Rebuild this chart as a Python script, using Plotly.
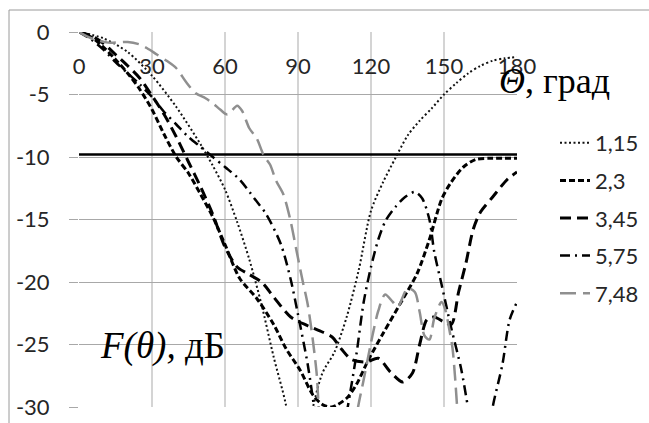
import plotly.graph_objects as go

# ---------------- data ----------------
theta_115 = [0, 10, 20, 30, 40, 50, 55, 60, 65, 70, 75, 80, 85, 90, 95, 100, 105, 110, 115, 120,
             125, 130, 135, 140, 145, 150, 155, 160, 165, 170, 175, 180]
f_115 = [0, -0.5, -1.6, -3.5, -6.0, -9.0, -10.7, -12.6, -15.2, -18.2, -21.8, -26.0, -29.8, -36.0, -31.0,
         -27.3, -25.6, -22.8, -19.0, -14.3, -12.0, -10.1, -8.3, -7.1, -6.1, -5.0, -4.1, -3.3, -2.7, -2.3,
         -2.1, -2.0]

theta_23 = [0, 5, 10, 15, 20, 25, 30, 35, 40, 45, 50, 55, 60, 66, 73, 80, 85, 91, 96, 100, 104, 110,
            114, 119, 125, 133, 139, 144, 149, 153, 158, 163, 170, 180]
f_23 = [0, -0.4, -1.2, -2.2, -3.3, -4.6, -6.2, -8.2, -10.0, -11.3, -13.0, -14.8, -17.0, -19.7, -21.3,
        -23.4, -25.3, -27.1, -29.0, -29.8, -30.0, -29.3, -28.2, -26.2, -24.1, -21.4, -19.3, -16.6, -13.4,
        -12.0, -10.8, -10.2, -10.1, -10.1]

theta_345 = [0, 5, 10, 15, 20, 25, 30, 35, 40, 45, 50, 55, 60, 65, 70, 75, 80, 87, 94, 100, 104, 108,
             112, 118, 123, 128, 133, 137, 140, 143, 146, 150, 153, 156, 159, 162, 165, 170, 176, 180]
f_345 = [0, -0.3, -0.9, -1.8, -2.7, -3.7, -5.1, -6.6, -8.4, -10.4, -12.4, -14.6, -17.2, -18.8, -19.4,
         -20.0, -21.2, -22.8, -23.5, -24.0, -24.4, -25.4, -26.2, -26.4, -26.1, -27.2, -28.0, -27.3, -25.0,
         -23.0, -22.8, -23.2, -23.4, -20.8, -18.5, -15.8, -14.4, -13.2, -11.8, -11.2]

theta_575 = [0, 5, 10, 15, 20, 25, 30, 35, 40, 45, 50, 55, 60, 66, 72, 77, 83, 87, 90, 94, 97, 103,
             110, 114, 117, 120, 123, 126, 130, 134, 138, 141, 144, 146, 149, 153, 157, 160, 165, 170,
             174, 177, 180]
f_575 = [0, -0.6, -1.4, -2.4, -3.3, -4.2, -5.2, -6.4, -7.4, -8.4, -9.2, -10.0, -10.8, -11.8, -13.3,
         -14.6, -17.0, -19.8, -22.6, -26.6, -30.5, -38.0, -30.5, -25.8, -21.6, -18.8, -16.6, -15.1, -14.0,
         -13.2, -12.8, -13.3, -15.0, -17.6, -20.2, -23.7, -26.9, -30.2, -36.0, -30.0, -26.6, -23.0, -21.6]

theta_748 = [0, 5, 12, 20, 25, 28, 32, 36, 40, 44, 48, 52, 55, 58, 61, 65, 67, 70, 73, 76, 78.5, 81,
             84, 86.7, 89.5, 92, 94, 96, 97.7, 98.5, 100, 106, 112, 114.7, 116.8, 120.7, 123, 125.8,
             129, 131, 135, 138, 140, 142, 144, 146, 149, 150.5, 152, 153.5, 154.5, 155.4, 157, 165, 180]
f_748 = [0, -0.5, -0.85, -0.8, -1.0, -1.3, -1.8, -2.3, -2.9, -4.0, -4.9, -5.3, -5.7, -6.2, -6.6, -5.9,
         -6.3, -7.7, -8.5, -9.9, -10.6, -11.9, -13.0, -14.9, -17.6, -20.0, -21.8, -24.5, -27.4, -30.0,
         -34.0, -40.0, -34.0, -30.0, -28.0, -24.2, -22.3, -21.0, -21.6, -22.0, -20.5, -20.8, -22.4, -24.3,
         -24.6, -22.9, -21.6, -22.2, -23.6, -25.3, -27.5, -30.0, -34.0, -40.0, -40.0]

level_theta = [0, 180]
level_db = [-9.8, -9.8]

series_names = ["1,15", "2,3", "3,45", "5,75", "7,48"]
x_ticks = [0, 30, 60, 90, 120, 150, 180]
y_ticks = [0, -5, -10, -15, -20, -25, -30]

# ---------------- layout helpers ----------------
W, H = 649, 423
L, R, T, B = 79, 517, 32, 407


def xp(px):
    return (px - L) / (R - L)


def yp(py):
    return (B - py) / (B - T)


styles = [
    dict(color="#111111", width=2, dash="2px,2.5px"),
    dict(color="#000000", width=3, dash="6px,3px"),
    dict(color="#000000", width=3, dash="11px,6px"),
    dict(color="#000000", width=2.5, dash="10px,5px,2px,5px"),
    dict(color="#8f8f8f", width=2.5, dash="16px,7px"),
]
data = [(theta_115, f_115), (theta_23, f_23), (theta_345, f_345), (theta_575, f_575), (theta_748, f_748)]

fig = go.Figure()

fig.add_trace(go.Scatter(x=level_theta, y=level_db, mode="lines", showlegend=False,
                         line=dict(color="#000000", width=2.5), hoverinfo="skip"))

for name, (xs, ys), st in zip(series_names, data, styles):
    fig.add_trace(go.Scatter(x=xs, y=ys, mode="lines", name=name, legendgroup=name,
                             line=dict(shape="spline", smoothing=0.8, **st)))

tick_font = dict(family="Lato, sans-serif", size=22, color="#262626")

fig.update_layout(
    width=W, height=H,
    margin=dict(l=L, r=W - R, t=T, b=H - B, autoexpand=False),
    paper_bgcolor="white", plot_bgcolor="white",
    xaxis=dict(range=[0, 180], tickvals=x_ticks, ticktext=[str(v) for v in x_ticks],
               side="top", ticklabelposition="inside", ticklabeloverflow="allow",
               ticklabelstandoff=24, automargin=False,
               showgrid=True, gridcolor="#d4d4d4", gridwidth=2, zeroline=False, showline=False,
               ticks="", tickfont=tick_font),
    yaxis=dict(range=[-30, 0], tickvals=y_ticks, ticktext=[str(v) for v in y_ticks],
               showgrid=True, gridcolor="#a8a8a8", gridwidth=1, zeroline=False, showline=False,
               ticks="outside", ticklen=9, tickcolor="#a8a8a8", tickwidth=1, automargin=False,
               ticklabelstandoff=15, tickfont=tick_font),
    legend=dict(x=xp(555), y=yp(122), xanchor="left", yanchor="top",
                font=dict(family="Lato, sans-serif", size=22, color="#262626"),
                tracegroupgap=6, traceorder="grouped", bgcolor="rgba(0,0,0,0)"),
    showlegend=True,
)

fig.add_annotation(x=xp(497), y=yp(81), xref="paper", yref="paper", xanchor="left", yanchor="middle",
                   text="<i>Θ</i>, град", showarrow=False,
                   font=dict(family="Liberation Serif, serif", size=36, color="#000000"))
fig.add_annotation(x=xp(98), y=yp(346), xref="paper", yref="paper", xanchor="left", yanchor="middle",
                   text="<i>F(θ),</i> дБ", showarrow=False,
                   font=dict(family="Liberation Serif, serif", size=37, color="#000000"))

# chart frame (outer border, partly outside the visible window)
fig.add_shape(type="line", xref="paper", yref="paper", x0=xp(9), y0=yp(10), x1=xp(700), y1=yp(10),
              line=dict(color="#9a9a9a", width=1))
fig.add_shape(type="line", xref="paper", yref="paper", x0=xp(9), y0=yp(10), x1=xp(9), y1=yp(460),
              line=dict(color="#9a9a9a", width=1))

fig.write_html("out.html")
